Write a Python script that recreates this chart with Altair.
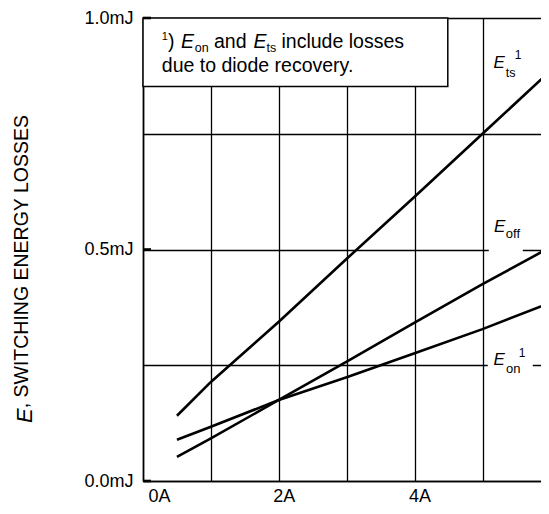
import altair as alt
import pandas as pd

# ---- data ----
current_A = [0.5, 1, 2, 3, 4, 5, 6]
E_ts = [0.141, 0.214, 0.344, 0.480, 0.614, 0.750, 0.886]
E_off = [0.052, 0.092, 0.175, 0.258, 0.342, 0.425, 0.505]
E_on = [0.089, 0.117, 0.175, 0.224, 0.276, 0.328, 0.385]
x_grid = [0, 1, 2, 3, 4, 5]
y_grid = [0, 0.25, 0.5, 0.75, 1.0]
y_tick_marks = [0, 0.5, 1.0]

FONT = "Liberation Sans"
W, H = 398, 463
XMAX = W / 67.9

rows = []
for name, vals in (("Ets", E_ts), ("Eoff", E_off), ("Eon", E_on)):
    for xv, yv in zip(current_A, vals):
        rows.append({"series": name, "I": xv, "E": yv})
df = pd.DataFrame(rows)

xscale = alt.Scale(domain=[0, XMAX], nice=False, zero=False)
yscale = alt.Scale(domain=[0, 1.0], nice=False, zero=False)

xaxis = alt.Axis(
    values=x_grid, labelExpr="datum.value % 2 === 0 ? datum.value + 'A' : ''",
    grid=True, gridColor="black", gridWidth=1.3, gridOpacity=1,
    ticks=False, tickSize=0, domainColor="black", domainWidth=1.6,
    labelFont=FONT, labelFontSize=18, labelColor="black", labelPadding=6,
    labelOffset=5, labelAngle=0, title=None, zindex=0,
)
yaxis = alt.Axis(
    values=y_grid,
    labelExpr="(datum.value * 2) % 1 === 0 ? format(datum.value, '.1f') + 'mJ' : ''",
    grid=True, gridColor="black", gridWidth=1.3, gridOpacity=1,
    ticks=False, tickSize=0, domainColor="black", domainWidth=1.6,
    labelFont=FONT, labelFontSize=18, labelColor="black", labelPadding=10,
    title=None, zindex=0,
)

lines = alt.Chart(df).mark_line(color="black", strokeWidth=2.6, clip=True).encode(
    x=alt.X("I:Q", scale=xscale, axis=xaxis),
    y=alt.Y("E:Q", scale=yscale, axis=yaxis),
    detail="series:N",
)

dummy = alt.Data(values=[{"a": 1}])


def rect(x1, x2, y1, y2, stroke=None, sw=0):
    kw = {"fill": "white"}
    if stroke:
        kw.update(stroke=stroke, strokeWidth=sw)
    return alt.Chart(dummy).mark_rect(**kw).encode(
        x=alt.value(x1), x2=alt.value(x2), y=alt.value(y1), y2=alt.value(y2))


def txt(s, x, y, size, italic=False, angle=None):
    kw = dict(text=s, font=FONT, fontSize=size, align="left", baseline="alphabetic",
              color="black", fontStyle="italic" if italic else "normal")
    if angle is not None:
        kw["angle"] = angle
    return alt.Chart(dummy).mark_text(**kw).encode(x=alt.value(x), y=alt.value(y))


ticks = alt.Chart(pd.DataFrame({"v": y_tick_marks})).mark_rule(color="black", strokeWidth=2.6).encode(
    y=alt.Y("v:Q", scale=yscale), x=alt.value(0), x2=alt.value(8))

layers = [
    lines,
    rect(344.8, 389.8, 340, 353),   # gap behind E_on label
    rect(345.8, 379.8, 227, 236),   # gap behind E_off label
    rect(0, 304.8, 0, 68.5, stroke="black", sw=1.5),  # note box
    ticks,
    # note text
    txt("1", 18.8, 21.5, 11),
    txt(")", 25, 30, 19.5),
    txt("E", 38, 30, 19.5, italic=True),
    txt("on", 51.8, 34, 12.5),
    txt("and", 71, 30, 19.5),
    txt("E", 110.5, 30, 19.5, italic=True),
    txt("ts", 123.5, 34, 12.5),
    txt("include losses", 138.5, 30, 19.5),
    txt("due to diode recovery.", 18.8, 54, 19.5),
    # curve labels
    txt("E", 350.5, 50.3, 17, italic=True),
    txt("ts", 362.8, 58.7, 12.5),
    txt("1", 371.8, 41.3, 12),
    txt("E", 351, 213.7, 17, italic=True),
    txt("off", 362.8, 220, 13),
    txt("E", 350.5, 347, 17, italic=True),
    txt("on", 363, 355, 13),
    txt("1", 375.8, 338.7, 12),
    # y-axis title
    txt("E", -111.2, 405, 22, italic=True, angle=270),
    txt(", SWITCHING ENERGY LOSSES", -115.2, 390.3, 19.5, angle=270),
]

chart = alt.layer(*layers).properties(
    width=W, height=H,
    autosize=alt.AutoSizeParams(type="none"),
    padding={"left": 135, "top": 10, "right": 0, "bottom": 25},
).configure_view(stroke=None)

chart.save("out.html", embed_options={"renderer": "svg", "actions": False})
